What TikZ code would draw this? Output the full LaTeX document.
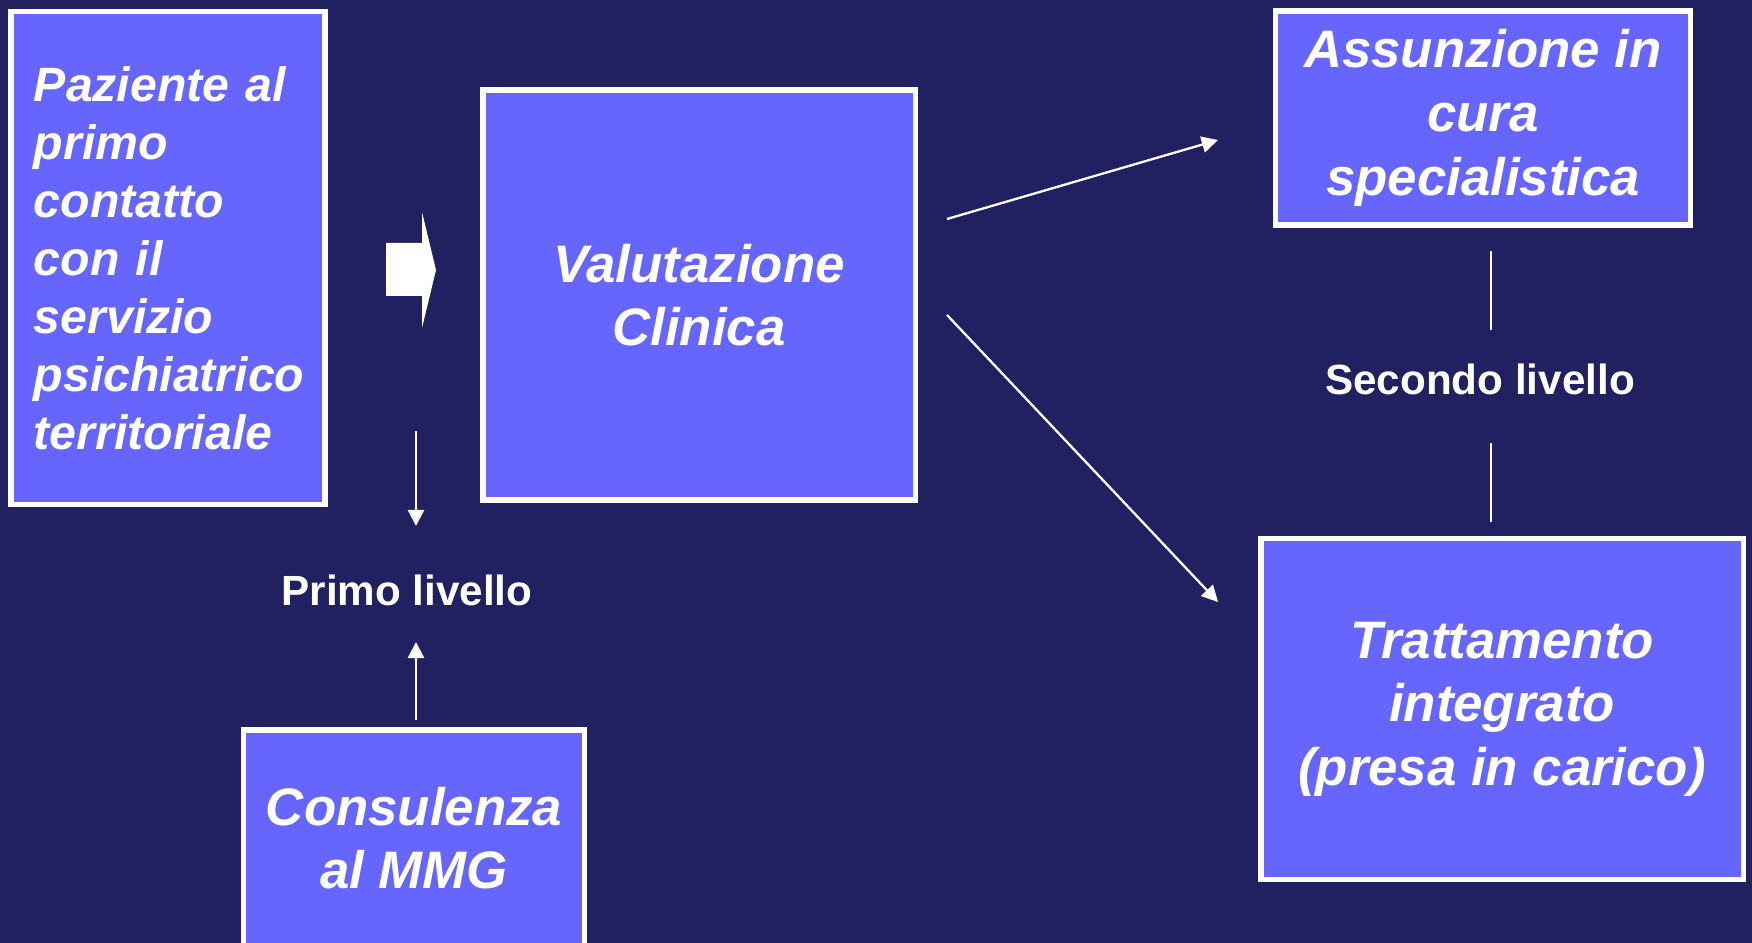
\documentclass[tikz,border=0pt]{standalone}
\usepackage{fontspec}
\setmainfont{Liberation Sans}
\usetikzlibrary{positioning,arrows.meta}
\definecolor{sfondo}{RGB}{33,33,98}
\definecolor{bluriquadro}{RGB}{102,102,255}
\tikzset{
  >={Triangle[length=4.6pt,width=4.6pt]},
  riquadro/.style={draw=white, fill=bluriquadro, line width=1.5pt, text=white, align=center,
    font=\bfseries\itshape\fontsize{15}{18.1}\selectfont, inner sep=2pt, minimum width=#1},
  riquadro/.default=3cm,
  etichetta/.style={text=white, font=\bfseries\fontsize{12}{14}\selectfont, inner sep=1pt},
  freccia/.style={->, draw=white, line width=0.65pt},
  traccia/.style={draw=white, line width=0.65pt},
  blocco/.style={fill=white},
}

\begin{document}
\begin{tikzpicture}[x=0.01cm, y=-0.01cm]
    \fill[sfondo] (0,0) rectangle (1752,943);
    \useasboundingbox (0,0) rectangle (1752,943);
    \clip (0,0) rectangle (1752,943);
    \node[riquadro=3.14cm, minimum height=4.92cm, align=left, text width=2.68cm,
      font=\bfseries\itshape\fontsize{13.7}{16.5}\selectfont] (paz) at (168,258)
      {Paziente al\\ primo\\ contatto\\ con il\\ servizio\\ psichiatrico\\ territoriale};
    \node[riquadro=4.32cm, minimum height=4.1cm] (val) at (699,295) {Valutazione\\ Clinica};
    \node[riquadro=4.15cm, minimum height=2.14cm] (ass) at (1483,118) {Assunzione in\\ cura\\ specialistica};
    \node[riquadro=4.82cm, minimum height=3.41cm] (trat) at (1502,709) {Trattamento\\ integrato\\ (presa in carico)};
    \node[riquadro=3.41cm, minimum height=2.16cm] (cons) at (414,838) {Consulenza\\ al MMG};
    \node[etichetta] (primo) at (407,590) {Primo livello};
    \node[etichetta] (secondo) at (1480,379) {Secondo livello};
    \fill[blocco] (386,243) -- (422,243) -- (422,212) -- (436,270) -- (422,328) -- (422,296) -- (386,296) -- cycle;
    \coordinate (pa) at (416,431);
    \coordinate (pb) at (416,526);
    \coordinate (pc) at (416,720);
    \coordinate (pd) at (416,642);
    \coordinate (va) at (947,219);
    \coordinate (vb) at (947,315);
    \coordinate (aa) at (1218,140);
    \coordinate (ta) at (1218,602);
    \coordinate (sa) at (1491,251);
    \coordinate (sb) at (1491,330);
    \coordinate (sc) at (1491,443);
    \coordinate (sd) at (1491,522);
    \draw[freccia] (pa) -- (pb);
    \draw[freccia] (pc) -- (pd);
    \draw[freccia] (va) -- (aa);
    \draw[freccia] (vb) -- (ta);
    \draw[traccia] (sa) -- (sb);
    \draw[traccia] (sc) -- (sd);
  \end{tikzpicture}
\end{document}
